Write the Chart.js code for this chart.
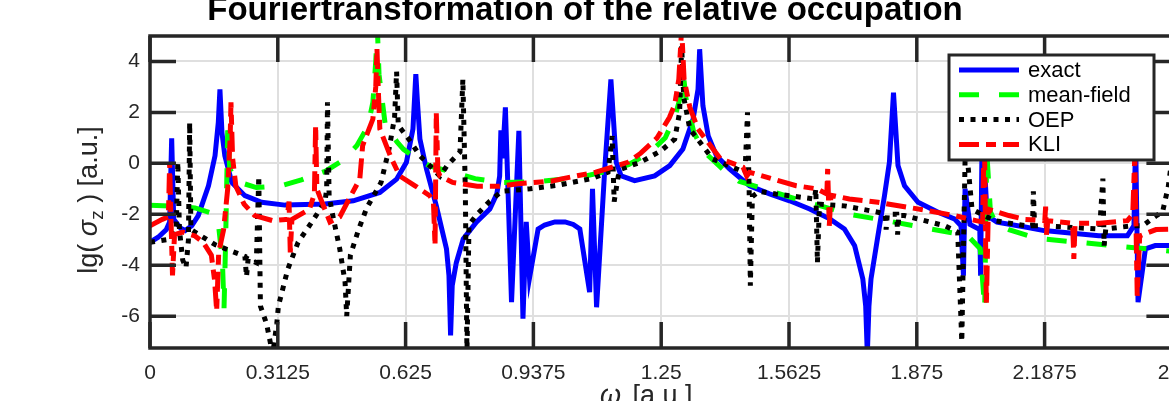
<!DOCTYPE html>
<html>
<head>
<meta charset="utf-8">
<script src="https://cdn.jsdelivr.net/npm/chart.js@4.4.0/dist/chart.umd.min.js"></script>
<style>
  html, body { margin: 0; padding: 0; background: #fff; overflow: hidden; }
  #fig { display: block; }
</style>
</head>
<body>
<canvas id="fig" width="1200" height="420"></canvas>
<script>
// tick values
var xTicks = [0, 0.3125, 0.625, 0.9375, 1.25, 1.5625, 1.875, 2.1875, 2.5];
var yTicks = [-6, -4, -2, 0, 2, 4];

// exact
var exactX = [0, 0.02, 0.04, 0.048, 0.053, 0.058, 0.075, 0.086, 0.102, 0.118, 0.143, 0.159, 0.167, 0.171, 0.176, 0.183, 0.2, 0.232, 0.273, 0.33, 0.428, 0.497, 0.562, 0.603, 0.627, 0.643, 0.65, 0.654, 0.66, 0.676, 0.7, 0.725, 0.731, 0.735, 0.739, 0.749, 0.766, 0.798, 0.831, 0.848, 0.855, 0.858, 0.862, 0.869, 0.884, 0.902, 0.912, 0.92, 0.928, 0.949, 0.965, 0.99, 1.015, 1.035, 1.051, 1.075, 1.082, 1.092, 1.112, 1.127, 1.14, 1.152, 1.185, 1.234, 1.271, 1.303, 1.328, 1.34, 1.344, 1.352, 1.365, 1.385, 1.417, 1.466, 1.515, 1.564, 1.613, 1.662, 1.698, 1.723, 1.743, 1.75, 1.754, 1.758, 1.763, 1.78, 1.796, 1.808, 1.818, 1.829, 1.845, 1.878, 1.927, 1.967, 1.983, 1.989, 1.993, 2.005, 2.029, 2.031, 2.035, 2.047, 2.071, 2.14, 2.186, 2.32, 2.39, 2.406, 2.41, 2.416, 2.434, 2.458, 2.5];
var exactY = [-3.1, -2.9, -2.6, -2.3, 0.98, -2.2, -2.55, -2.64, -2.45, -2.05, -0.88, 0.3, 1.6, 2.9, 1.2, 0.3, -0.75, -1.27, -1.53, -1.64, -1.6, -1.47, -1.14, -0.62, 0.04, 1.35, 3.5, 2.4, 0.95, -0.22, -1.66, -3.36, -4.4, -6.76, -4.8, -3.9, -2.97, -2.31, -1.79, -1.2, -0.5, 1.3, 0.2, 2.2, -5.45, 1.28, -6.1, -2.3, -4.5, -2.58, -2.42, -2.3, -2.3, -2.4, -2.58, -5.06, -1.0, -5.65, -0.22, 3.3, 0.04, -0.49, -0.68, -0.49, -0.09, 0.56, 1.74, 2.9, 4.48, 2.26, 1.08, 0.3, -0.22, -0.88, -1.2, -1.47, -1.79, -2.18, -2.58, -3.23, -4.54, -5.6, -7.5, -5.6, -4.54, -2.84, -1.27, 0.04, 2.78, -0.09, -0.88, -1.53, -1.92, -2.18, -2.45, -4.41, -1.0, -2.4, -2.6, -4.41, 1.5, -2.05, -2.31, -2.5, -2.64, -2.84, -2.84, -2.45, 1.0, -5.45, -3.36, -3.23, -3.23];

// mean-field
var meanX = [0, 0.05, 0.11, 0.15, 0.168, 0.177, 0.181, 0.185, 0.19, 0.195, 0.21, 0.26, 0.32, 0.37, 0.43, 0.47, 0.506, 0.533, 0.545, 0.552, 0.556, 0.56, 0.575, 0.604, 0.62, 0.65, 0.684, 0.74, 0.795, 0.86, 0.95, 1.05, 1.12, 1.17, 1.22, 1.26, 1.285, 1.3, 1.305, 1.31, 1.33, 1.355, 1.4, 1.44, 1.5, 1.54, 1.6, 1.64, 1.71, 1.8, 1.9, 1.97, 2.0, 2.03, 2.041, 2.046, 2.055, 2.07, 2.1, 2.17, 2.27, 2.4, 2.5];
var meanY = [-1.65, -1.68, -1.75, -1.95, -2.5, -3.8, -5.7, -3.0, 1.3, -0.2, -0.7, -0.95, -0.88, -0.65, -0.3, 0.1, 0.7, 1.47, 2.4, 4.0, 5.3, 3.5, 1.54, 0.84, 0.55, 0.2, -0.1, -0.35, -0.6, -0.75, -0.72, -0.55, -0.3, -0.05, 0.4, 1.0, 1.9, 2.8, 3.4, 2.6, 1.2, 0.45, -0.22, -0.7, -1.0, -1.2, -1.5, -1.67, -2.0, -2.25, -2.55, -2.75, -2.85, -3.35, -5.7, 0.5, -1.9, -2.4, -2.6, -2.95, -3.1, -3.3, -3.45];

// OEP
var oepX = [0, 0.04, 0.064, 0.068, 0.072, 0.08, 0.088, 0.094, 0.097, 0.1, 0.12, 0.16, 0.2, 0.232, 0.236, 0.24, 0.26, 0.266, 0.27, 0.285, 0.3, 0.31, 0.314, 0.337, 0.362, 0.396, 0.428, 0.432, 0.434, 0.438, 0.447, 0.464, 0.477, 0.481, 0.49, 0.51, 0.53, 0.565, 0.585, 0.598, 0.603, 0.607, 0.635, 0.66, 0.709, 0.726, 0.758, 0.765, 0.771, 0.775, 0.78, 0.8, 0.83, 0.86, 0.93, 1.0, 1.08, 1.12, 1.13, 1.135, 1.145, 1.153, 1.2, 1.25, 1.283, 1.295, 1.3, 1.305, 1.32, 1.376, 1.435, 1.455, 1.461, 1.465, 1.468, 1.473, 1.49, 1.53, 1.625, 1.628, 1.632, 1.637, 1.698, 1.78, 1.798, 1.8, 1.803, 1.826, 1.828, 1.831, 1.845, 1.943, 1.975, 1.985, 1.994, 2.01, 2.04, 2.065, 2.14, 2.158, 2.16, 2.163, 2.182, 2.322, 2.33, 2.333, 2.337, 2.402, 2.427, 2.461, 2.476, 2.49, 2.5];
var oepY = [-3.1, -3.0, -2.7, 0.05, -2.6, -3.8, -4.1, -3.0, 1.6, -2.6, -2.8, -3.2, -3.45, -3.65, -4.45, -3.75, -3.9, -0.5, -5.6, -6.3, -7.5, -6.3, -5.6, -4.15, -3.1, -2.3, -1.5, -1.0, 2.4, -1.3, -2.05, -3.36, -4.67, -6.0, -3.6, -2.6, -1.75, -0.75, 0.6, 1.8, 3.6, 1.5, 0.9, 0.3, -0.5, -0.1, 0.45, 3.3, -1.0, -7.5, -2.4, -2.0, -1.5, -1.1, -1.0, -0.85, -0.6, -0.35, 1.07, -1.5, -0.5, -0.22, 0.05, 0.5, 0.95, 2.0, 4.6, 2.6, 1.35, 0.17, -0.22, -0.35, 2.0, -1.0, -4.8, -1.3, -1.1, -1.2, -1.4, -1.0, -3.9, -1.6, -1.67, -1.92, -2.0, -2.6, -2.0, -2.0, -2.8, -2.05, -2.05, -2.45, -2.7, -7.0, 1.0, -1.8, -2.05, -2.25, -2.45, -2.45, -1.1, -2.45, -2.45, -2.58, -0.6, -3.23, -2.58, -2.45, -2.45, -2.05, -1.9, -0.9, 0.3];

// KLI
var kliX = [0, 0.03, 0.045, 0.048, 0.051, 0.055, 0.06, 0.08, 0.11, 0.13, 0.15, 0.158, 0.163, 0.168, 0.18, 0.19, 0.196, 0.198, 0.202, 0.21, 0.23, 0.256, 0.3, 0.335, 0.34, 0.343, 0.347, 0.39, 0.402, 0.405, 0.408, 0.415, 0.44, 0.464, 0.49, 0.513, 0.52, 0.545, 0.552, 0.555, 0.558, 0.562, 0.59, 0.611, 0.65, 0.684, 0.693, 0.697, 0.7, 0.704, 0.709, 0.74, 0.8, 0.855, 0.9, 0.98, 1.04, 1.09, 1.17, 1.2, 1.24, 1.27, 1.283, 1.293, 1.3, 1.306, 1.32, 1.34, 1.395, 1.45, 1.459, 1.466, 1.58, 1.63, 1.655, 1.657, 1.661, 1.665, 1.71, 1.78, 1.9, 1.967, 2.02, 2.036, 2.04, 2.045, 2.05, 2.1, 2.14, 2.188, 2.19, 2.192, 2.195, 2.256, 2.259, 2.262, 2.322, 2.39, 2.403, 2.408, 2.414, 2.42, 2.46, 2.5];
var kliY = [-2.45, -2.2, -2.1, 0.05, -2.0, -4.4, -2.8, -2.7, -2.85, -3.1, -3.6, -4.6, -5.8, -3.5, -2.6, -1.0, 1.0, 2.4, 0.2, -0.9, -1.6, -2.05, -2.25, -2.2, -1.5, -3.5, -2.2, -1.8, -1.2, 1.5, -1.0, -1.3, -2.3, -2.1, -1.3, -0.62, 0.7, 1.74, 3.0, 4.5, 3.0, 1.35, 0.2, -0.5, -0.9, -1.27, -1.5, -3.23, 2.0, -0.3, -0.5, -0.75, -0.9, -0.9, -0.8, -0.7, -0.5, -0.35, 0.05, 0.4, 1.0, 1.8, 2.3, 3.3, 5.3, 3.3, 2.2, 1.35, 0.17, -0.15, -0.5, -0.35, -0.88, -1.0, -1.2, -0.22, -2.45, -1.25, -1.4, -1.53, -1.85, -2.05, -2.25, -2.3, 1.5, -5.6, -1.8, -2.05, -2.2, -2.25, -1.7, -2.8, -2.25, -2.35, -3.75, -2.35, -2.35, -2.25, -2.0, 0.3, -5.2, -2.85, -2.6, -2.58];

var seriesNames = ["exact", "mean-field", "OEP", "KLI"];

var axisColor = "#262626";
var gridColor = "#dfdfdf";
var fontFam = "'Liberation Sans', Arial, Helvetica, sans-serif";

function pts(xs, ys) {
  return xs.map(function (x, i) { return { x: x, y: ys[i] }; });
}

// box, inward ticks, legend and texts (matlab style)
var figDecor = {
  id: "figDecor",
  afterDatasetsDraw: function (chart) {
    var ctx = chart.ctx, a = chart.chartArea;
    var sx = chart.scales.x, sy = chart.scales.y;
    var tl = 26;
    ctx.save();
    ctx.strokeStyle = axisColor;
    ctx.lineWidth = 3.5;
    ctx.lineCap = "butt";
    ctx.beginPath();
    xTicks.forEach(function (v) {
      var px = sx.getPixelForValue(v);
      ctx.moveTo(px, a.bottom); ctx.lineTo(px, a.bottom - tl);
      ctx.moveTo(px, a.top); ctx.lineTo(px, a.top + tl);
    });
    yTicks.forEach(function (v) {
      var py = sy.getPixelForValue(v);
      ctx.moveTo(a.left, py); ctx.lineTo(a.left + tl, py);
      ctx.moveTo(a.right, py); ctx.lineTo(a.right - tl, py);
    });
    ctx.stroke();
    ctx.strokeRect(a.left, a.top, a.right - a.left, a.bottom - a.top);
    ctx.restore();
  },
  afterDraw: function (chart) {
    var ctx = chart.ctx;
    ctx.save();

    // legend
    var lx = 949, ly = 55, lw = 205, lh = 105;
    ctx.fillStyle = "#fff";
    ctx.fillRect(lx, ly, lw, lh);
    ctx.strokeStyle = axisColor;
    ctx.lineWidth = 3;
    ctx.strokeRect(lx, ly, lw, lh);
    chart.data.datasets.forEach(function (ds, i) {
      var y = 70 + i * 24.8;
      ctx.strokeStyle = ds.borderColor;
      ctx.lineWidth = ds.borderWidth;
      ctx.setLineDash(ds.borderDash || []);
      ctx.beginPath();
      ctx.moveTo(959, y); ctx.lineTo(1019, y);
      ctx.stroke();
      ctx.setLineDash([]);
      ctx.fillStyle = "#000";
      ctx.font = "22px " + fontFam;
      ctx.textBaseline = "middle";
      ctx.textAlign = "left";
      ctx.fillText(ds.label, 1028, y + 1);
    });

    // title
    ctx.fillStyle = "#000";
    ctx.font = "bold 33px " + fontFam;
    ctx.textAlign = "center";
    ctx.textBaseline = "alphabetic";
    ctx.fillText("Fouriertransformation of the relative occupation", 585, 20);

    // y label with subscript
    ctx.fillStyle = axisColor;
    var normal = "27px " + fontFam;
    var ital = "italic 27px " + fontFam;
    var small = "19px " + fontFam;
    var parts = [["lg( ", normal, 0], ["\u03c3", ital, 0], ["z", small, 6], [" ) [a.u.]", normal, 0]];
    var w = 0;
    parts.forEach(function (p) { ctx.font = p[1]; p.push(ctx.measureText(p[0]).width); w += p[3]; });
    ctx.translate(97, 200);
    ctx.rotate(-Math.PI / 2);
    ctx.textAlign = "left";
    var u = -w / 2;
    parts.forEach(function (p) { ctx.font = p[1]; ctx.fillText(p[0], u, p[2]); u += p[3]; });
    ctx.setTransform(1, 0, 0, 1, 0, 0);

    // x label
    ctx.font = ital;
    ctx.textAlign = "left";
    ctx.fillText("\u03c9", 600, 404);
    var ow = ctx.measureText("\u03c9 ").width;
    ctx.font = normal;
    ctx.fillText("[a.u.]", 600 + ow + 4, 404);
    ctx.restore();
  }
};

new Chart(document.getElementById("fig"), {
  type: "line",
  data: {
    datasets: [{
      label: seriesNames[0],
      data: pts(exactX, exactY),
      borderColor: "#0000ff",
      borderWidth: 5,
      order: 4
    }, {
      label: seriesNames[1],
      data: pts(meanX, meanY),
      borderColor: "#00ff00",
      borderWidth: 5,
      borderDash: [20, 20],
      order: 3
    }, {
      label: seriesNames[2],
      data: pts(oepX, oepY),
      borderColor: "#000000",
      borderWidth: 5,
      borderDash: [5, 6.5],
      order: 2
    }, {
      label: seriesNames[3],
      data: pts(kliX, kliY),
      borderColor: "#ff0000",
      borderWidth: 5,
      borderDash: [20, 7, 10, 7],
      order: 1
    }]
  },
  options: {
    responsive: false,
    animation: false,
    devicePixelRatio: 1,
    layout: { padding: { top: 36, left: 0, right: 27, bottom: 0 } },
    elements: {
      point: { radius: 0 },
      line: { tension: 0, fill: false, borderCapStyle: "butt" }
    },
    datasets: { line: { clip: 0 } },
    plugins: {
      legend: { display: false },
      title: { display: false },
      tooltip: { enabled: false }
    },
    scales: {
      x: {
        type: "linear",
        min: 0,
        max: 2.5,
        afterBuildTicks: function (s) { s.ticks = xTicks.map(function (v) { return { value: v }; }); },
        afterFit: function (s) { s.height = 72; },
        border: { display: false },
        grid: { color: gridColor, lineWidth: 2, drawTicks: false },
        ticks: {
          autoSkip: false,
          maxRotation: 0,
          padding: 13,
          color: axisColor,
          font: { family: fontFam, size: 21 },
          callback: function (v) { return String(v); }
        }
      },
      y: {
        type: "linear",
        min: -7.25,
        max: 5,
        afterBuildTicks: function (s) { s.ticks = yTicks.map(function (v) { return { value: v }; }); },
        afterFit: function (s) { s.width = 150; },
        border: { display: false },
        grid: { color: gridColor, lineWidth: 2, drawTicks: false },
        ticks: {
          padding: 10,
          color: axisColor,
          font: { family: fontFam, size: 21 },
          callback: function (v) { return String(v); }
        }
      }
    }
  },
  plugins: [figDecor]
});
</script>
</body>
</html>
